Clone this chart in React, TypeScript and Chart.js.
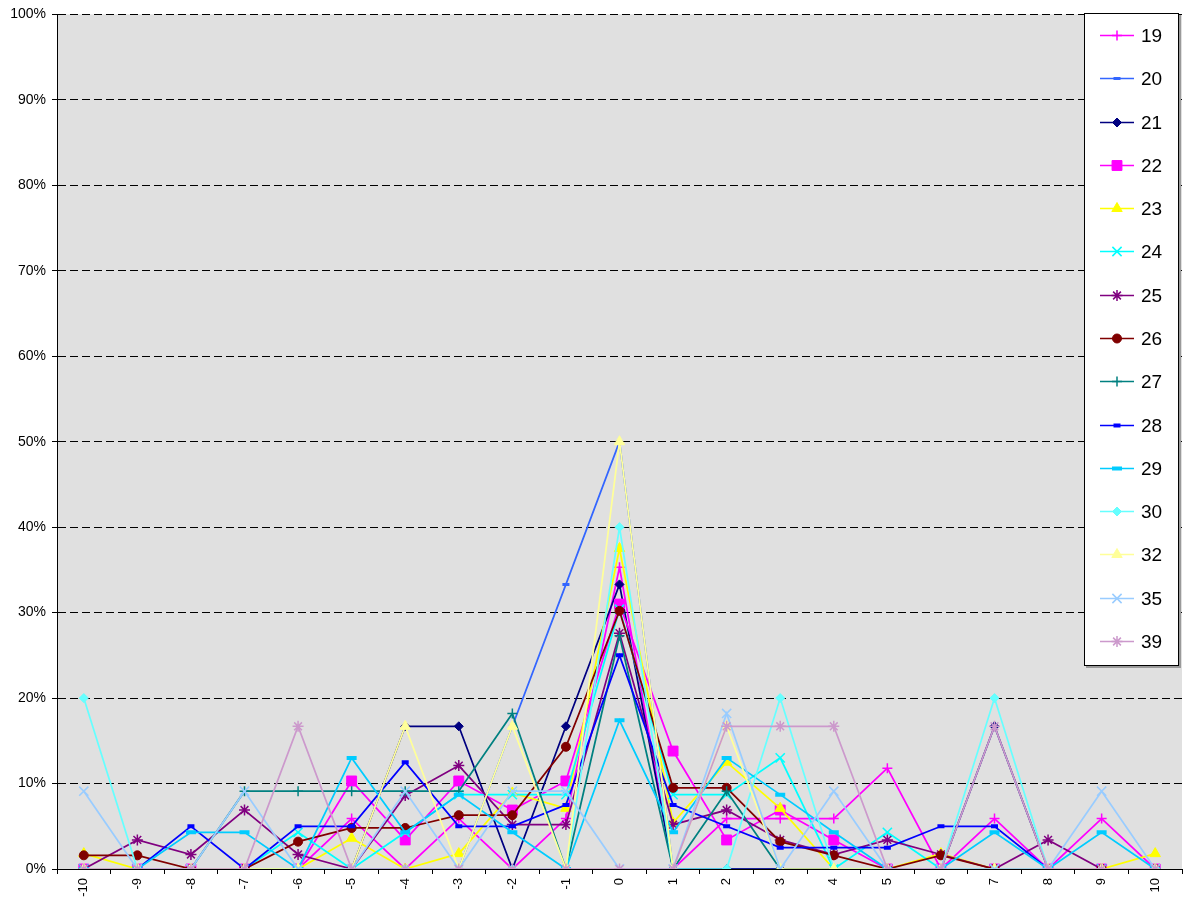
import React, { useEffect, useRef } from 'react';
import { Chart, registerables } from 'chart.js';

Chart.register(...registerables);

// ---- data ----
const categories = ['-10', '-9', '-8', '-7', '-6', '-5', '-4', '-3', '-2', '-1', '0', '1', '2', '3', '4', '5', '6', '7', '8', '9', '10'];
const yTicks = [0, 10, 20, 30, 40, 50, 60, 70, 80, 90, 100];

const s19 = [0, 0, 0, 0, 0, 5.9, 0, 5.9, 0, 5.9, 35.3, 0, 5.9, 5.9, 5.9, 11.8, 0, 5.9, 0, 5.9, 0];
const s20 = [0, 0, 0, 0, 0, 0, 0, 0, 16.7, 33.3, 50, 0, 0, 0, 0, 0, 0, 0, 0, 0, 0];
const s21 = [0, 0, 0, 0, 0, 0, 16.7, 16.7, 0, 16.7, 33.3, 0, 0, 0, 0, 0, 0, 16.7, 0, 0, 0];
const s22 = [0, 0, 0, 0, 0, 10.3, 3.4, 10.3, 6.9, 10.3, 31.0, 13.8, 3.4, 6.9, 3.4, 0, 0, 0, 0, 0, 0];
const s23 = [1.8, 0, 0, 0, 0, 3.6, 0, 1.8, 8.9, 7.1, 37.5, 5.4, 12.5, 7.1, 0, 0, 1.8, 0, 0, 0, 1.8];
const s24 = [0, 0, 0, 0, 4.3, 0, 4.3, 8.7, 8.7, 8.7, 30.4, 8.7, 8.7, 13.0, 0, 4.3, 0, 0, 0, 0, 0];
const s25 = [0, 3.4, 1.7, 6.9, 1.7, 0, 8.6, 12.1, 5.2, 5.2, 27.6, 5.2, 6.9, 3.4, 1.7, 3.4, 1.7, 0, 3.4, 0, 0];
const s26 = [1.6, 1.6, 0, 0, 3.2, 4.8, 4.8, 6.3, 6.3, 14.3, 30.2, 9.5, 9.5, 3.2, 1.6, 0, 1.6, 0, 0, 0, 0];
const s27 = [0, 0, 0, 9.1, 9.1, 9.1, 9.1, 9.1, 18.2, 0, 27.3, 0, 9.1, 0, 0, 0, 0, 0, 0, 0, 0];
const s28 = [0, 0, 5, 0, 5, 5, 12.5, 5, 5, 7.5, 25, 7.5, 5, 2.5, 2.5, 2.5, 5, 5, 0, 0, 0];
const s29 = [0, 0, 4.3, 4.3, 0, 13.0, 4.3, 8.7, 4.3, 0, 17.4, 4.3, 13.0, 8.7, 4.3, 0, 0, 4.3, 0, 4.3, 0];
const s30 = [20, 0, 0, 0, 0, 0, 0, 0, 0, 0, 40, 0, 0, 20, 0, 0, 0, 20, 0, 0, 0];
const s32 = [0, 0, 0, 0, 0, 0, 16.7, 0, 16.7, 0, 50, 0, 16.7, 0, 0, 0, 0, 0, 0, 0, 0];
const s35 = [9.1, 0, 0, 9.1, 0, 0, 9.1, 0, 9.1, 9.1, 0, 0, 18.2, 0, 9.1, 0, 0, 0, 0, 9.1, 0];
const s39 = [0, 0, 0, 0, 16.7, 0, 0, 0, 0, 0, 0, 0, 16.7, 16.7, 16.7, 0, 0, 16.7, 0, 0, 0];

const seriesNames = ['19', '20', '21', '22', '23', '24', '25', '26', '27', '28', '29', '30', '32', '35', '39'];
const seriesValues = [s19, s20, s21, s22, s23, s24, s25, s26, s27, s28, s29, s30, s32, s35, s39];

// ---- styles ----
type MStyle = { color: string; point: string; r: number; bw: number; filled: boolean };
const seriesStyles: MStyle[] = [
  { color: '#FF00FF', point: 'cross', r: 5, bw: 1.5, filled: false },
  { color: '#3366FF', point: 'line', r: 3.5, bw: 3, filled: true },
  { color: '#000080', point: 'rectRot', r: 4.5, bw: 1, filled: true },
  { color: '#FF00FF', point: 'rect', r: 7, bw: 1, filled: true },
  { color: '#FFFF00', point: 'triangle', r: 6, bw: 1, filled: true },
  { color: '#00FFFF', point: 'crossRot', r: 6.5, bw: 1.5, filled: false },
  { color: '#800080', point: 'star', r: 5.5, bw: 1.5, filled: false },
  { color: '#800000', point: 'circle', r: 4.5, bw: 1, filled: true },
  { color: '#008080', point: 'cross', r: 5, bw: 1.5, filled: false },
  { color: '#0000FF', point: 'line', r: 3.5, bw: 4, filled: true },
  { color: '#00CCFF', point: 'line', r: 5, bw: 4, filled: true },
  { color: '#66FFFF', point: 'rectRot', r: 4.5, bw: 1, filled: true },
  { color: '#FFFF99', point: 'triangle', r: 6, bw: 1, filled: true },
  { color: '#99CCFF', point: 'crossRot', r: 6.5, bw: 1.5, filled: false },
  { color: '#CC99CC', point: 'star', r: 5.5, bw: 1.5, filled: false },
];

const FONT = 'Arial, "Liberation Sans", Helvetica, sans-serif';

function drawMarker(ctx: CanvasRenderingContext2D, st: MStyle, x: number, y: number) {
  const r = st.r;
  ctx.save();
  ctx.strokeStyle = st.color;
  ctx.fillStyle = st.color;
  ctx.lineWidth = st.bw;
  ctx.beginPath();
  const Q = Math.PI / 4;
  const cross = (rad: number) => {
    const xo = Math.cos(rad) * r;
    const yo = Math.sin(rad) * r;
    ctx.moveTo(x - xo, y - yo);
    ctx.lineTo(x + xo, y + yo);
    ctx.moveTo(x + yo, y - xo);
    ctx.lineTo(x - yo, y + xo);
  };
  switch (st.point) {
    case 'cross':
      cross(0);
      break;
    case 'crossRot':
      cross(Q);
      break;
    case 'star':
      cross(0);
      cross(Q);
      break;
    case 'line':
      ctx.moveTo(x - r, y);
      ctx.lineTo(x + r, y);
      break;
    case 'rect': {
      const s = Math.SQRT1_2 * r;
      ctx.rect(x - s, y - s, 2 * s, 2 * s);
      break;
    }
    case 'rectRot':
      ctx.moveTo(x - r, y);
      ctx.lineTo(x, y - r);
      ctx.lineTo(x + r, y);
      ctx.lineTo(x, y + r);
      ctx.closePath();
      break;
    case 'triangle': {
      let rad = 0;
      ctx.moveTo(x + Math.sin(rad) * r, y - Math.cos(rad) * r);
      rad += (2 * Math.PI) / 3;
      ctx.lineTo(x + Math.sin(rad) * r, y - Math.cos(rad) * r);
      rad += (2 * Math.PI) / 3;
      ctx.lineTo(x + Math.sin(rad) * r, y - Math.cos(rad) * r);
      ctx.closePath();
      break;
    }
    case 'circle':
      ctx.arc(x, y, r, 0, Math.PI * 2);
      break;
  }
  if (st.filled && st.point !== 'line') ctx.fill();
  ctx.stroke();
  ctx.restore();
}

const plotBgPlugin = {
  id: 'plotBg',
  beforeDraw(chart: any) {
    const { ctx, chartArea } = chart;
    ctx.save();
    ctx.fillStyle = '#E0E0E0';
    ctx.fillRect(chartArea.left, chartArea.top, chartArea.right - chartArea.left, chartArea.bottom - chartArea.top);
    ctx.restore();
  },
};

const boxLegendPlugin = {
  id: 'boxLegend',
  afterDraw(chart: any) {
    const ctx: CanvasRenderingContext2D = chart.ctx;
    const x0 = 1084;
    const y0 = 13;
    const w = 94;
    const h = 652;
    ctx.save();
    ctx.fillStyle = '#9a9a9a';
    ctx.fillRect(x0 + 2, y0 + 2, w + 1, h + 1);
    ctx.fillStyle = '#FFFFFF';
    ctx.fillRect(x0, y0, w, h);
    ctx.strokeStyle = '#000000';
    ctx.lineWidth = 1;
    ctx.strokeRect(x0 + 0.5, y0 + 0.5, w, h);
    const step = (641 - 35) / (seriesNames.length - 1);
    seriesNames.forEach((name, i) => {
      const st = seriesStyles[i];
      const y = Math.round(35 + i * step) + 0.5;
      ctx.strokeStyle = st.color;
      ctx.lineWidth = 1.5;
      ctx.beginPath();
      ctx.moveTo(1100, y);
      ctx.lineTo(1134, y);
      ctx.stroke();
      drawMarker(ctx, st, 1117, y);
      ctx.fillStyle = '#000000';
      ctx.font = `19px ${FONT}`;
      ctx.textAlign = 'left';
      ctx.textBaseline = 'middle';
      ctx.fillText(name, 1141, y + 1);
    });
    ctx.restore();
  },
};

export default function App() {
  const canvasRef = useRef<HTMLCanvasElement | null>(null);

  useEffect(() => {
    if (!canvasRef.current) return;
    Chart.defaults.font.family = FONT;
    Chart.defaults.color = '#000000';

    const n = seriesNames.length;
    const datasets = seriesNames.map((name, i) => {
      const st = seriesStyles[i];
      return {
        label: name,
        data: seriesValues[i],
        borderColor: st.color,
        backgroundColor: st.color,
        borderWidth: 1.75,
        pointStyle: st.point as any,
        pointRadius: st.r,
        pointBorderWidth: st.bw,
        pointBorderColor: st.color,
        pointBackgroundColor: st.filled ? st.color : 'rgba(0,0,0,0)',
        tension: 0,
        fill: false,
        order: n - i,
      };
    });

    const chart = new Chart(canvasRef.current, {
      type: 'line',
      data: { labels: categories, datasets },
      plugins: [plotBgPlugin, boxLegendPlugin],
      options: {
        animation: false,
        responsive: false,
        devicePixelRatio: 1,
        events: [],
        layout: { padding: { top: 14, right: 6, left: 0, bottom: 0 } },
        plugins: {
          legend: { display: false },
          tooltip: { enabled: false },
          title: { display: false },
        },
        scales: {
          x: {
            type: 'category',
            offset: true,
            grid: {
              offset: true,
              drawOnChartArea: false,
              drawTicks: true,
              tickLength: 5,
              color: '#000000',
            },
            border: { color: '#000000', width: 1 },
            ticks: {
              autoSkip: false,
              maxRotation: 90,
              minRotation: 90,
              padding: 4,
              font: { size: 13 },
              color: '#000000',
            },
            afterFit: (s: any) => {
              s.height = 35;
            },
          },
          y: {
            min: 0,
            max: 100,
            afterBuildTicks: (s: any) => {
              s.ticks = yTicks.map((v) => ({ value: v }));
            },
            grid: {
              color: '#000000',
              lineWidth: 1,
              drawTicks: true,
              tickLength: 5,
              tickColor: '#000000',
            },
            border: { color: '#000000', width: 1, dash: [8, 4] },
            ticks: {
              padding: 6,
              font: { size: 14 },
              color: '#000000',
              callback: (v: any) => `${v}%`,
            },
            afterFit: (s: any) => {
              s.width = 57;
            },
          },
        },
      },
    } as any);

    return () => {
      chart.destroy();
    };
  }, []);

  return (
    <div style={{ position: 'fixed', left: 0, top: 0, width: 1191, height: 904, background: '#FFFFFF' }}>
      <canvas ref={canvasRef} width={1191} height={904} style={{ width: 1191, height: 904, display: 'block' }} />
    </div>
  );
}
